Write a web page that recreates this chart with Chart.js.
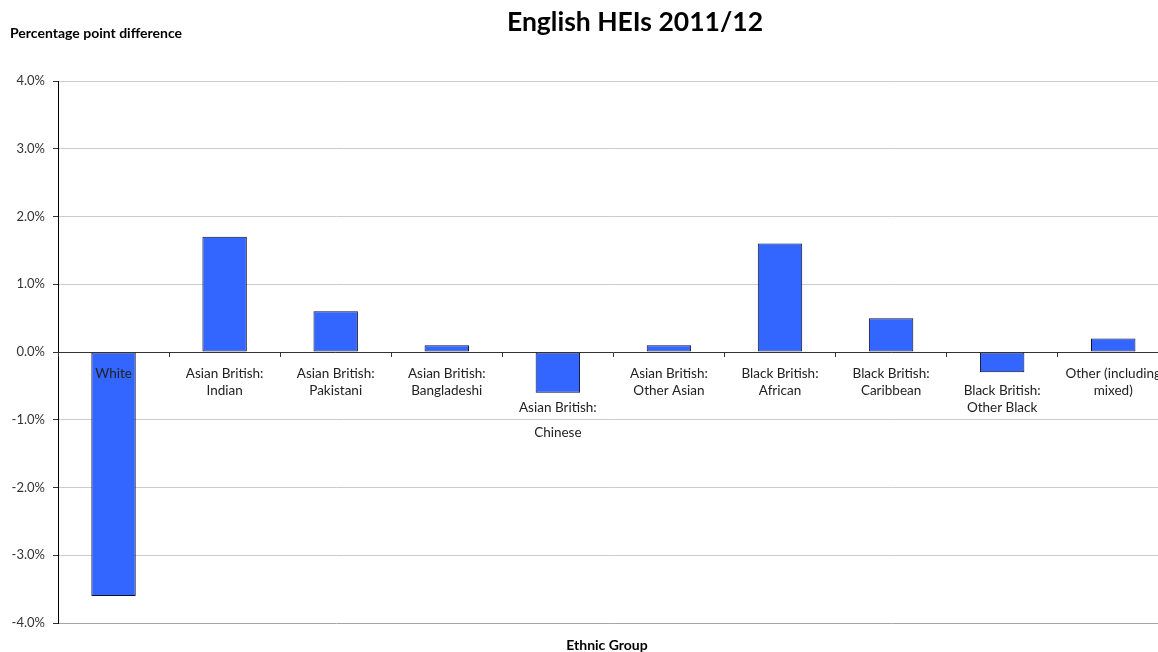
<!DOCTYPE html>
<html>
<head>
<meta charset="utf-8">
<title>English HEIs 2011/12</title>
<script src="https://cdn.jsdelivr.net/npm/chart.js@4"></script>
<style>
    html, body { margin: 0; padding: 0; background: #fff; overflow: hidden; }
    #wrap { width: 1174px; height: 652px; }
</style>
</head>
<body>
<div id="wrap"><canvas id="heiChart" width="1174" height="652"></canvas></div>
<script>
// category labels (blank entries only push the text down, as in the original)
const groups = [
    ['White'],
    ['Asian British:', '', 'Indian'],
    ['Asian British:', '', 'Pakistani'],
    ['Asian British:', '', 'Bangladeshi'],
    ['', '', '', '', 'Asian British:', '', '', 'Chinese'],
    ['Asian British:', '', 'Other Asian'],
    ['Black British:', '', 'African'],
    ['Black British:', '', 'Caribbean'],
    ['', '', 'Black British:', '', 'Other Black'],
    ['Other (including', '', 'mixed)']
];
const differences = [-3.6, 1.7, 0.6, 0.1, -0.6, 0.1, 1.6, 0.5, -0.3, 0.2];
const yTicks = [-4, -3, -2, -1, 0, 1, 2, 3, 4];

const FONT = 'Lato, "Open Sans", sans-serif';

const textPlugin = {
    id: 'texts',
    afterDraw(chart) {
        const ctx = chart.ctx;
        ctx.save();
        ctx.fillStyle = '#000';
        ctx.textBaseline = 'middle';
        ctx.font = 'bold 26.5px ' + FONT;
        ctx.textAlign = 'center';
        ctx.fillText('English HEIs 2011/12', 635, 22);
        ctx.font = 'bold 14px ' + FONT;
        ctx.textAlign = 'left';
        ctx.fillText('Percentage point difference', 10, 33);
        ctx.textAlign = 'center';
        ctx.fillText('Ethnic Group', 607, 645);
        ctx.restore();
    }
};

const ctx = document.getElementById('heiChart').getContext('2d');
new Chart(ctx, {
    type: 'bar',
    data: {
        labels: groups,
        datasets: [{
            data: differences,
            backgroundColor: '#3366ff',
            borderColor: '#0d0d2e',
            borderWidth: 1,
            borderSkipped: false,
            barPercentage: 0.4,
            categoryPercentage: 1
        }]
    },
    options: {
        responsive: false,
        animation: false,
        layout: { padding: { top: 81, bottom: 29, left: 0, right: 0 } },
        plugins: {
            legend: { display: false },
            tooltip: { enabled: false }
        },
        scales: {
            x: {
                position: { y: 0 },
                grid: {
                    offset: true,
                    drawOnChartArea: false,
                    drawTicks: true,
                    tickLength: 4,
                    color: '#333',
                    z: 1
                },
                border: { color: '#333', width: 1, z: 1 },
                ticks: {
                    z: 1,
                    autoSkip: false,
                    maxRotation: 0,
                    padding: 13,
                    color: '#222',
                    font: { family: FONT, size: 13.5, lineHeight: '8.5px' }
                }
            },
            y: {
                min: -4,
                max: 4,
                afterFit(scale) { scale.width = 58; },
                afterBuildTicks(scale) { scale.ticks = yTicks.map(v => ({ value: v })); },
                grid: {
                    color: ctx => ctx.tick && ctx.tick.value === -4 ? '#a6a6a6' : '#cccccc',
                    tickColor: '#333',
                    tickLength: 5,
                    lineWidth: 1
                },
                border: { color: '#000', width: 1 },
                ticks: {
                    padding: 8,
                    color: '#333',
                    font: { family: FONT, size: 13 },
                    callback: v => v.toFixed(1) + '%'
                }
            }
        }
    },
    plugins: [textPlugin]
});
</script>
</body>
</html>
